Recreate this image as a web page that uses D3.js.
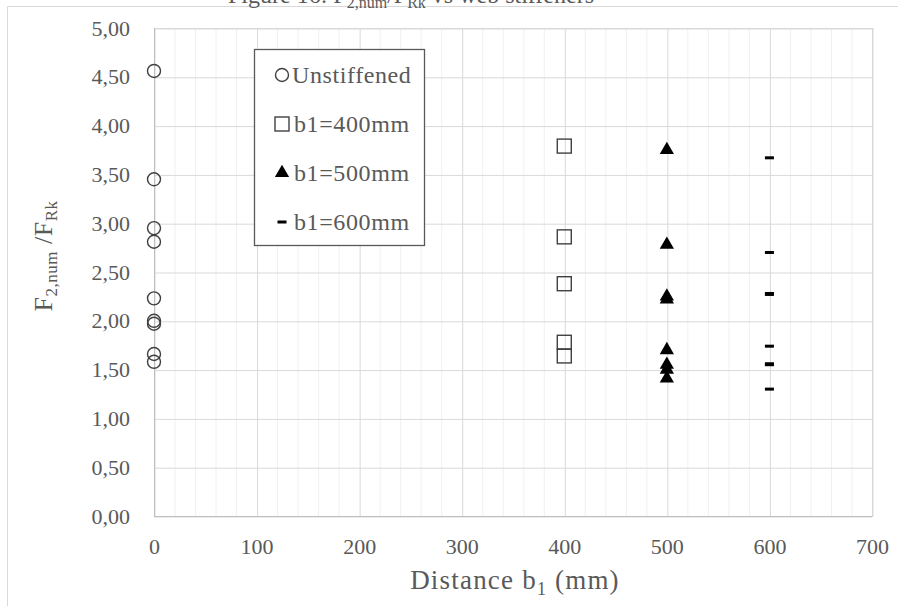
<!DOCTYPE html>
<html><head><meta charset="utf-8">
<script src="https://cdn.jsdelivr.net/npm/d3@7"></script>
<style>html,body{margin:0;padding:0;background:#fff;}svg{display:block;}</style>
</head><body>
<svg id="chart" width="898" height="606"></svg>
<script>
// ---- data ----
const seriesNames = ["Unstiffened", "b1=400mm", "b1=500mm", "b1=600mm"];
const unstiffenedX = [0, 0, 0, 0, 0, 0, 0, 0, 0];
const unstiffenedY = [4.56, 3.45, 2.95, 2.81, 2.23, 2.00, 1.97, 1.66, 1.58];
const b400X = [400, 400, 400, 400, 400];
const b400Y = [3.79, 2.86, 2.38, 1.78, 1.64];
const b500X = [500, 500, 500, 500, 500, 500, 500, 500];
const b500Y = [3.75, 2.78, 2.25, 2.22, 1.70, 1.55, 1.50, 1.41];
const b600X = [600, 600, 600, 600, 600, 600, 600, 600];
const b600Y = [3.67, 2.70, 2.28, 2.27, 1.74, 1.56, 1.55, 1.30];
const xTicks = [0, 100, 200, 300, 400, 500, 600, 700];
const yTicks = [0, 0.5, 1, 1.5, 2, 2.5, 3, 3.5, 4, 4.5, 5];

(function () {
const svg = d3.select("#chart");
const W = 898, H = 606;
const FONT = "'Liberation Serif','Times New Roman',serif";
const TXT = "#595959";
const pL = 154, pR = 872, pT = 28, pB = 516;
const x = d3.scaleLinear().domain([0, 700]).range([pL, pR]);
const y = d3.scaleLinear().domain([0, 5]).range([pB, pT]);
const fmt = d3.formatLocale({decimal: ",", thousands: ".", grouping: [3], currency: ["", ""]}).format(".2f");

svg.append("rect").attr("width", W).attr("height", H).attr("fill", "#fff");
svg.append("path").attr("d", `M7.5,606 V6.5 H898`).attr("fill", "none").attr("stroke", "#d9d9d9").attr("stroke-width", 1);

const title = svg.append("text").attr("x", 411).attr("y", 3).attr("text-anchor", "middle")
  .attr("font-family", FONT).attr("font-size", 24).attr("fill", TXT);
title.append("tspan").text("Figure 16: F");
title.append("tspan").attr("font-size", 16).attr("dy", 5).text("2,num");
title.append("tspan").attr("dy", -5).text("/F");
title.append("tspan").attr("font-size", 16).attr("dy", 5).text("Rk");
title.append("tspan").attr("dy", -5).text(" vs web stiffeners");

const minorX = d3.range(0, 701, 20).filter(v => v % 100 !== 0);
svg.append("g").selectAll("line").data(minorX).join("line")
  .attr("x1", d => x(d) + 0.5).attr("x2", d => x(d) + 0.5)
  .attr("y1", pT).attr("y2", pB).attr("stroke", "#f0f0f0").attr("stroke-width", 1);
svg.append("g").attr("transform", `translate(0,${pB})`)
  .call(d3.axisBottom(x).tickValues(xTicks).tickSize(-(pB - pT)).tickFormat(""))
  .call(g => g.select(".domain").remove())
  .call(g => g.selectAll("line").attr("stroke", "#d9d9d9").attr("transform", "translate(0.5,0)"));
svg.append("g").attr("transform", `translate(${pL},0)`)
  .call(d3.axisLeft(y).tickValues(yTicks).tickSize(-(pR - pL)).tickFormat(""))
  .call(g => g.select(".domain").remove())
  .call(g => g.selectAll("line").attr("stroke", "#d9d9d9").attr("transform", "translate(0,0.5)"));
svg.append("rect").attr("x", pL + 0.5).attr("y", pT + 0.5).attr("width", pR - pL).attr("height", pB - pT)
  .attr("fill", "none").attr("stroke", "#d9d9d9");
svg.append("line").attr("x1", pL + 0.5).attr("x2", pL + 0.5).attr("y1", pT).attr("y2", pB + 0.5).attr("stroke", "#bfbfbf");
svg.append("line").attr("x1", pL).attr("x2", pR + 0.5).attr("y1", pB + 0.5).attr("y2", pB + 0.5).attr("stroke", "#bfbfbf");

svg.append("g").attr("transform", `translate(${pL},0)`)
  .call(d3.axisLeft(y).tickValues(yTicks).tickSize(0).tickPadding(24).tickFormat(fmt))
  .call(g => g.select(".domain").remove())
  .call(g => g.selectAll("text").attr("font-family", FONT).attr("font-size", 22).attr("fill", TXT).attr("dy", "0.32em"));
svg.append("g").attr("transform", `translate(0,${pB})`)
  .call(d3.axisBottom(x).tickValues(xTicks).tickSize(0).tickPadding(22).tickFormat(d3.format("d")))
  .call(g => g.select(".domain").remove())
  .call(g => g.selectAll("text").attr("font-family", FONT).attr("font-size", 22).attr("fill", TXT));

const xt = svg.append("text").attr("x", 515).attr("y", 589).attr("text-anchor", "middle")
  .attr("font-family", FONT).attr("font-size", 27).attr("letter-spacing", 1.2).attr("fill", TXT);
xt.append("tspan").text("Distance b");
xt.append("tspan").attr("font-size", 18).attr("dy", 6).text("1");
xt.append("tspan").attr("dy", -6).text(" (mm)");

const yt = svg.append("text").attr("transform", "translate(52,256) rotate(-90)").attr("text-anchor", "middle")
  .attr("font-family", FONT).attr("font-size", 26).attr("letter-spacing", 0.5).attr("fill", TXT);
yt.append("tspan").text("F");
yt.append("tspan").attr("font-size", 17).attr("dy", 5).text("2,num");
yt.append("tspan").attr("dy", -5).text(" /F");
yt.append("tspan").attr("font-size", 17).attr("dy", 5).text("Rk");

const tri = d3.symbol(d3.symbolTriangle, 88);
function drawMarker(g, type, cx, cy) {
  if (type === 0) g.append("circle").attr("cx", cx).attr("cy", cy).attr("r", 6.5)
    .attr("fill", "none").attr("stroke", "#404040").attr("stroke-width", 1.4);
  else if (type === 1) g.append("rect").attr("x", cx - 7).attr("y", cy - 7).attr("width", 14).attr("height", 14)
    .attr("fill", "none").attr("stroke", "#404040").attr("stroke-width", 1.4);
  else if (type === 2) g.append("path").attr("d", tri()).attr("transform", `translate(${cx},${cy})`).attr("fill", "#000");
  else g.append("rect").attr("x", cx - 4.5).attr("y", cy - 1.5).attr("width", 9).attr("height", 3).attr("fill", "#000");
}
const series = [[unstiffenedX, unstiffenedY], [b400X, b400Y], [b500X, b500Y], [b600X, b600Y]];
const marks = svg.append("g");
series.forEach(([xs, ys], i) => {
  xs.forEach((xv, j) => drawMarker(marks, i, x(xv), y(ys[j])));
});

const lg = svg.append("g");
lg.append("rect").attr("x", 254.5).attr("y", 49.5).attr("width", 170).attr("height", 196)
  .attr("fill", "#fff").attr("stroke", "#595959").attr("stroke-width", 1.3);
const rowY = [75, 124, 173, 222];
seriesNames.forEach((name, i) => {
  drawMarker(lg, i, 282, rowY[i]);
  lg.append("text").attr("x", i === 0 ? 292 : 294).attr("y", rowY[i]).attr("dy", "0.35em")
    .attr("font-family", FONT).attr("font-size", 24).attr("letter-spacing", 0.6).attr("fill", TXT).text(name);
});
})();
</script>
</body></html>
